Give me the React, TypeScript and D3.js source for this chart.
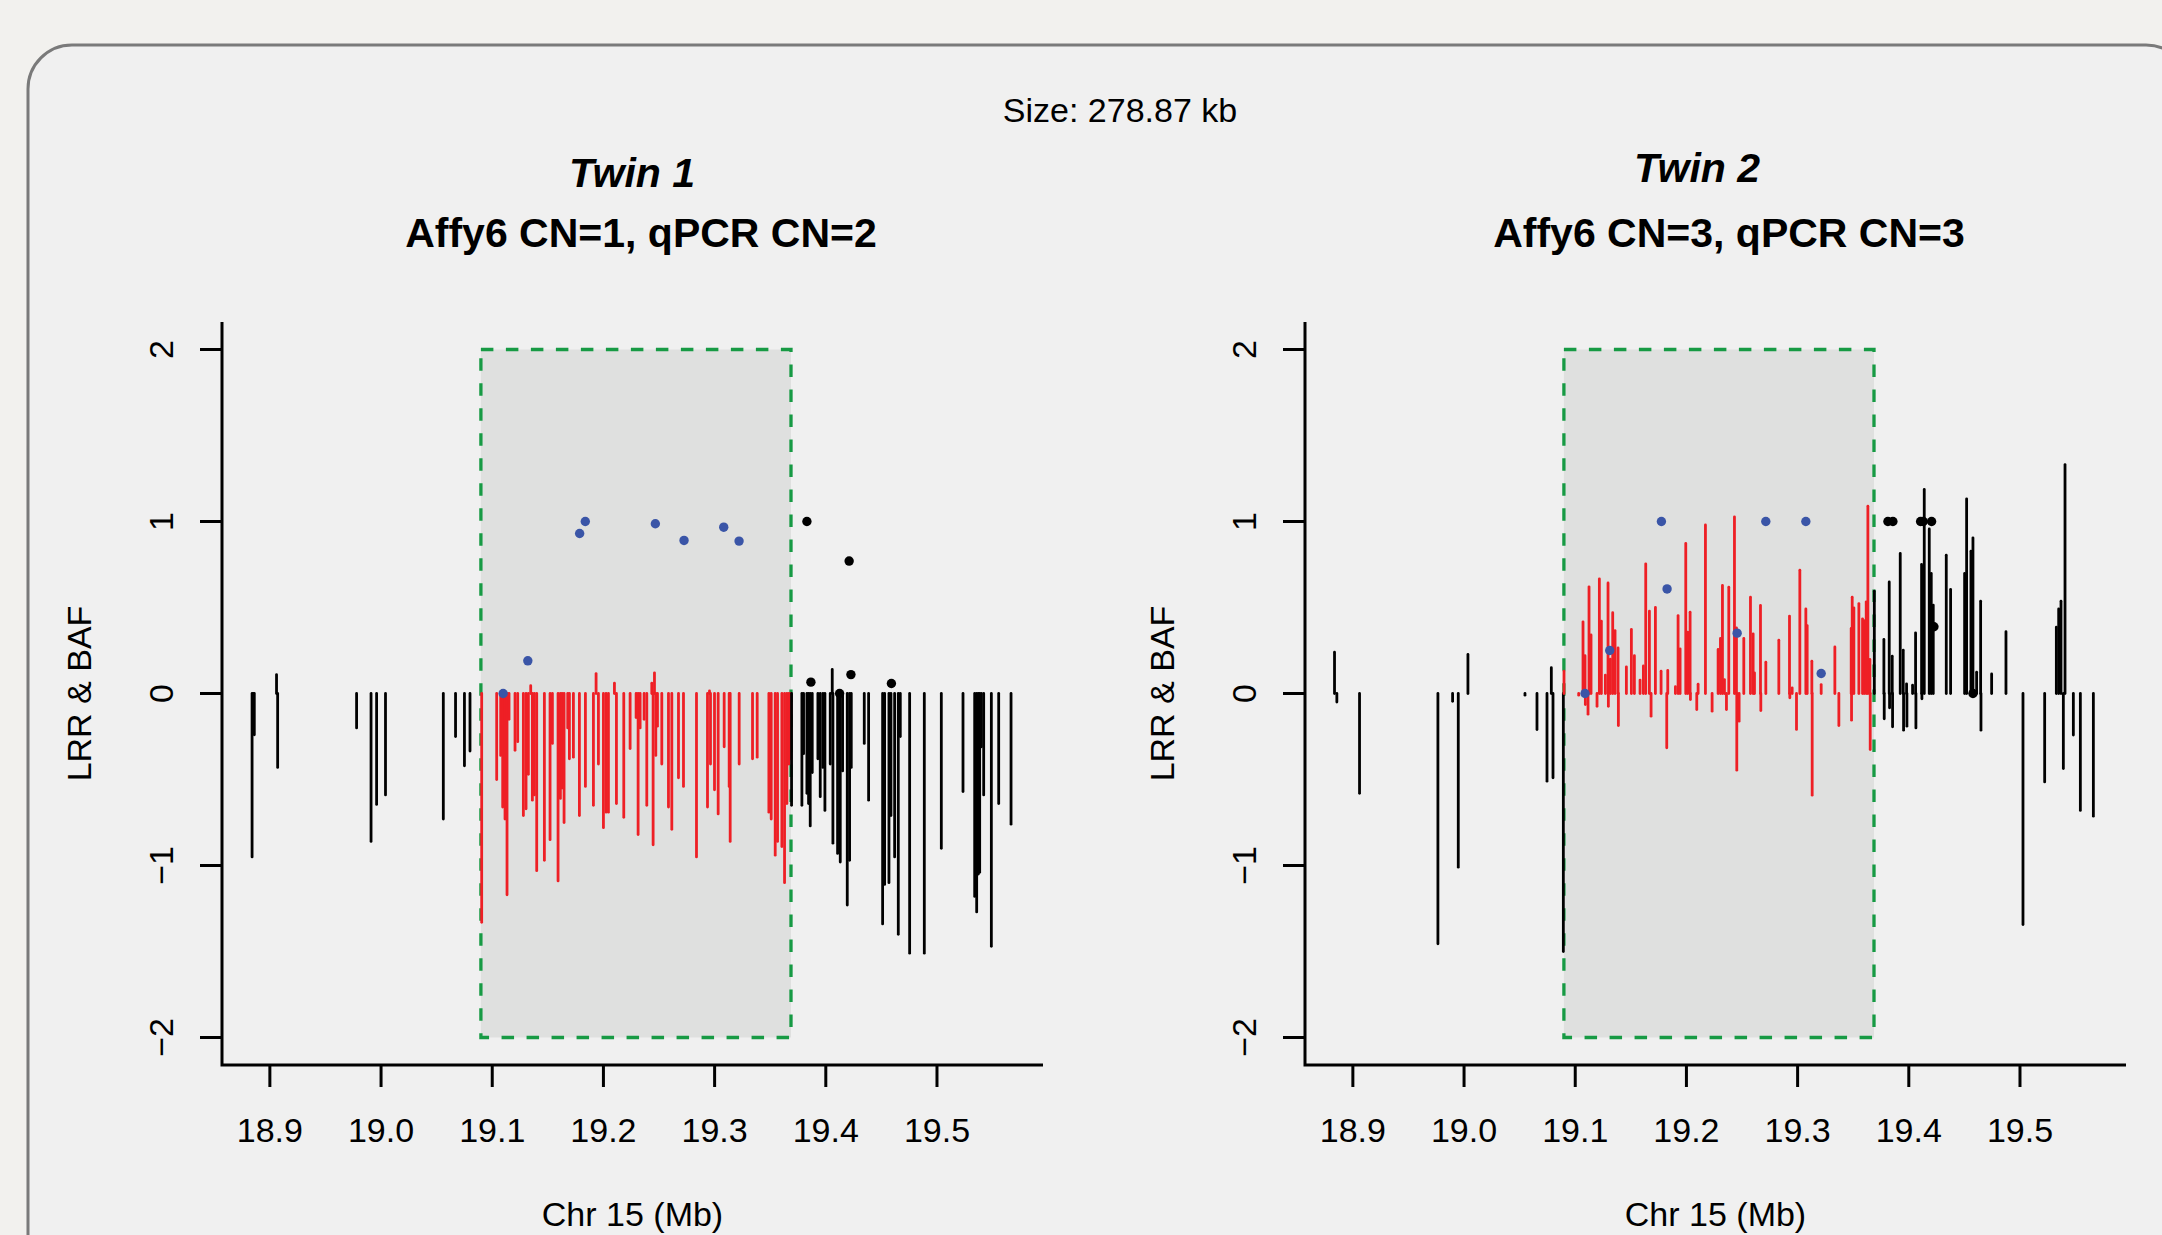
import React, { useEffect, useRef } from 'react';
import * as d3 from 'd3';

const W = 2162;
const H = 1235;

// region under test (Mb)
const cnvRegion = [19.0898, 19.3687];
const xTicks = [18.9, 19.0, 19.1, 19.2, 19.3, 19.4, 19.5];
const yTicks = [-2, -1, 0, 1, 2];
const xLim = [18.8843, 19.568];
const yLim = [-2, 2];

// Twin 1: [position Mb, LRR]
const twin1Lrr: [number, number][] = [
    [18.884, -0.95], [18.885, -0.13], [18.886, -0.24], [18.906, 0.11], [18.907, -0.43],
    [18.978, -0.2], [18.991, -0.86], [18.996, -0.645], [19.004, -0.59], [19.056, -0.73],
    [19.067, -0.25], [19.075, -0.42], [19.08, -0.335],
    [19.0905, -1.33], [19.104, -0.5], [19.1076, -0.36], [19.1094, -0.66], [19.1115, -0.73],
    [19.1133, -1.17], [19.1151, -0.15], [19.1205, -0.33], [19.1229, -0.28], [19.128, -0.71],
    [19.1304, -0.67], [19.1325, -0.47], [19.1346, 0.045], [19.1361, -0.62], [19.1379, -0.59],
    [19.14, -1.03], [19.1469, -0.97], [19.152, -0.85], [19.1541, -0.29], [19.1592, -1.09],
    [19.1613, -0.61], [19.1628, -0.55], [19.1646, -0.75], [19.1679, -0.2], [19.1694, -0.38],
    [19.173, -0.37], [19.1784, -0.71], [19.1838, -0.54], [19.191, -0.65], [19.1934, 0.116],
    [19.1955, -0.41], [19.2, -0.78], [19.2024, -0.69], [19.2045, -0.69], [19.2099, 0.06],
    [19.2117, -0.64], [19.2183, -0.72], [19.224, -0.32], [19.2294, -0.14], [19.2312, -0.82],
    [19.233, -0.2], [19.2366, -0.15], [19.239, -0.65], [19.2435, 0.06], [19.2447, -0.88],
    [19.2459, 0.12], [19.2471, -0.36], [19.2486, -0.19], [19.2525, -0.41], [19.2585, -0.66],
    [19.2615, -0.79], [19.2675, -0.49], [19.272, -0.54], [19.2837, -0.95], [19.2936, -0.66],
    [19.2954, 0.015], [19.2963, -0.41], [19.2999, -0.56], [19.3032, -0.7], [19.3086, -0.31],
    [19.3131, -0.54], [19.314, -0.86], [19.3221, -0.41], [19.3341, -0.38], [19.3383, -0.37],
    [19.3488, -0.69], [19.3509, -0.73], [19.3545, -0.94], [19.3566, -0.86], [19.3605, -0.89],
    [19.3629, -1.1], [19.365, -0.64], [19.3668, -0.41], [19.3686, -0.38],
    [19.3692, -0.65], [19.3785, -0.65], [19.38, -0.35], [19.383, -0.58], [19.3845, -0.64],
    [19.386, -0.77], [19.3878, -0.46], [19.3929, -0.38], [19.395, -0.6], [19.3974, -0.43],
    [19.3992, -0.68], [19.404, -0.41], [19.4058, 0.14], [19.4064, -0.87], [19.4106, -0.93],
    [19.413, -0.98], [19.4151, -0.45], [19.4193, -1.23], [19.4214, -0.97], [19.4229, -0.43],
    [19.4346, -0.29], [19.4385, -0.62], [19.4511, -1.34], [19.4529, -1.11], [19.4568, -1.1],
    [19.4586, -0.71], [19.4619, -0.95], [19.4652, -1.4], [19.467, -0.25], [19.4754, -1.51],
    [19.4886, -1.51], [19.5039, -0.9], [19.5234, -0.57], [19.5339, -1.18], [19.5357, -1.27],
    [19.5372, -1.05], [19.5384, -1.04], [19.5399, -0.31], [19.542, -0.59], [19.5489, -1.47],
    [19.5555, -0.64], [19.5666, -0.76],
];

// Twin 1: [position Mb, BAF]
const twin1Baf: [number, number][] = [
    [19.1098, 0.0], [19.132, 0.19], [19.1786, 0.93], [19.1837, 1.0], [19.2467, 0.987],
    [19.2725, 0.89], [19.3082, 0.967], [19.322, 0.886],
    [19.383, 1.0], [19.3866, 0.066], [19.4124, 0.0], [19.421, 0.77], [19.4226, 0.11], [19.459, 0.058],
];

// Twin 2: [position Mb, LRR]
const twin2Lrr: [number, number][] = [
    [18.8835, 0.24], [18.8856, -0.05], [18.906, -0.58], [18.9765, -1.455], [18.9897, -0.045],
    [18.9948, -1.01], [19.0035, 0.227], [19.0548, -0.01], [19.0656, -0.21], [19.0746, -0.51],
    [19.0785, 0.15], [19.08, -0.49], [19.0893, -1.5],
    [19.0899, 0.13], [19.1031, -0.01], [19.107, 0.417], [19.1088, 0.22], [19.1091, -0.064],
    [19.1115, -0.12], [19.1124, 0.62], [19.1142, 0.34], [19.1196, -0.074], [19.1217, 0.667],
    [19.1235, 0.42], [19.1271, 0.107], [19.1295, 0.643], [19.1298, -0.074], [19.1316, 0.2],
    [19.1337, 0.47], [19.1358, 0.366], [19.1385, 0.265], [19.1388, -0.186], [19.146, 0.155],
    [19.1505, 0.372], [19.1532, 0.22], [19.1583, 0.078], [19.1613, 0.16], [19.1634, 0.754],
    [19.1667, 0.479], [19.1682, -0.132], [19.1721, 0.5], [19.1772, 0.13], [19.1823, -0.316],
    [19.1832, 0.134], [19.1901, 0.04], [19.1925, 0.453], [19.1943, 0.26], [19.1994, 0.872],
    [19.2012, 0.357], [19.2033, 0.473], [19.2036, -0.035], [19.2093, -0.093], [19.2105, 0.054],
    [19.2171, 0.98], [19.2231, -0.103], [19.2285, 0.256], [19.2306, 0.32], [19.2324, 0.628],
    [19.2342, 0.081], [19.236, -0.093], [19.2381, 0.618], [19.2432, 1.027], [19.245, 0.382],
    [19.2453, -0.446], [19.2474, -0.161], [19.2516, 0.32], [19.2576, 0.56], [19.26, 0.347],
    [19.2612, 0.12], [19.2666, 0.512], [19.2669, -0.099], [19.2714, 0.182], [19.2831, 0.31],
    [19.2927, 0.45], [19.293, -0.025], [19.2951, 0.033], [19.299, -0.209], [19.302, 0.717],
    [19.3074, 0.492], [19.3086, 0.395], [19.3128, 0.188], [19.3131, -0.591], [19.3212, 0.052],
    [19.3335, 0.271], [19.3371, -0.186], [19.3482, 0.378], [19.3485, -0.155], [19.3491, 0.56],
    [19.3506, 0.498], [19.3551, 0.523], [19.3584, 0.434], [19.3599, 0.424], [19.3617, 0.533],
    [19.3632, 1.089], [19.365, 0.198], [19.3653, -0.326],
    [19.369, 0.595], [19.3776, 0.314], [19.3779, -0.147], [19.3824, 0.649], [19.3827, -0.083],
    [19.3851, 0.217], [19.3854, -0.194], [19.3923, 0.814], [19.395, 0.252], [19.3953, -0.213],
    [19.398, 0.056], [19.3983, -0.19], [19.4034, 0.048], [19.4061, 0.353], [19.4064, -0.2],
    [19.4115, 0.75], [19.4118, -0.031], [19.4139, 1.186], [19.4184, 0.957], [19.4202, 0.698],
    [19.422, 0.514], [19.4337, 0.804], [19.4376, 0.605], [19.4502, 0.698], [19.452, 1.132],
    [19.4559, 0.827], [19.4577, 0.905], [19.461, 0.124], [19.4646, 0.537], [19.4649, -0.213],
    [19.4745, 0.114], [19.4874, 0.359], [19.5027, -1.343], [19.5222, -0.514], [19.5327, 0.386],
    [19.5348, 0.492], [19.5369, 0.537], [19.539, -0.436], [19.5405, 1.331], [19.548, -0.242],
    [19.5543, -0.68], [19.566, -0.713],
];

// Twin 2: [position Mb, BAF]
const twin2Baf: [number, number][] = [
    [19.1088, 0.0], [19.131, 0.25], [19.1775, 1.0], [19.1826, 0.608], [19.2456, 0.351],
    [19.2714, 1.0], [19.3074, 1.0], [19.3212, 0.116],
    [19.3812, 1.0], [19.3857, 1.0], [19.4106, 1.0], [19.413, 1.0], [19.4205, 1.0],
    [19.4226, 0.388], [19.4577, 0.0],
];

const panels = [
    { left: 222, lrr: twin1Lrr, baf: twin1Baf, twin: 'Twin 1', cn: 'Affy6 CN=1, qPCR CN=2', twinX: 632, twinY: 187, cnX: 641 },
    { left: 1305, lrr: twin2Lrr, baf: twin2Baf, twin: 'Twin 2', cn: 'Affy6 CN=3, qPCR CN=3', twinX: 1697, twinY: 182, cnX: 1729 },
];

const FONT = '"Liberation Sans", Arial, Helvetica, sans-serif';
const TOP = 322;
const PW = 821;
const PH = 743;

function App() {
    const svgRef = useRef(null);

    useEffect(() => {
        const svg = d3.select(svgRef.current);
        svg.selectAll('*').remove();

        svg.append('rect').attr('width', W).attr('height', H).attr('fill', '#f2f1ee');
        svg.append('rect')
            .attr('x', 28).attr('y', 45).attr('width', W).attr('height', H).attr('rx', 44)
            .attr('fill', '#f0f0f0').attr('stroke', '#7a7a7a').attr('stroke-width', 3);

        svg.append('text')
            .attr('x', 1120).attr('y', 122).attr('text-anchor', 'middle')
            .style('font-family', FONT).style('font-size', '34px').attr('fill', '#000')
            .text('Size: 278.87 kb');

        // R style axis expansion (4%)
        const xPad = 0.04 * (xLim[1] - xLim[0]);
        const yPad = 0.04 * (yLim[1] - yLim[0]);
        const inRegion = (p: number) => p >= cnvRegion[0] && p <= cnvRegion[1];

        panels.forEach(p => {
            const x = d3.scaleLinear().domain([xLim[0] - xPad, xLim[1] + xPad]).range([0, PW]);
            const y = d3.scaleLinear().domain([yLim[0] - yPad, yLim[1] + yPad]).range([PH, 0]);

            svg.append('text')
                .attr('x', p.twinX).attr('y', p.twinY).attr('text-anchor', 'middle')
                .style('font-family', FONT).style('font-size', '41px')
                .style('font-weight', 'bold').style('font-style', 'italic')
                .text(p.twin);
            svg.append('text')
                .attr('x', p.cnX).attr('y', 247).attr('text-anchor', 'middle')
                .style('font-family', FONT).style('font-size', '41px').style('font-weight', 'bold')
                .text(p.cn);

            const g = svg.append('g').attr('transform', `translate(${p.left},${TOP})`);

            // shaded CNV region
            g.append('rect')
                .attr('x', x(cnvRegion[0])).attr('y', y(2))
                .attr('width', x(cnvRegion[1]) - x(cnvRegion[0])).attr('height', y(-2) - y(2))
                .attr('fill', '#dfe0df').attr('stroke', '#179a44')
                .attr('stroke-width', 3.3).attr('stroke-dasharray', '12.5 12.5');

            // LRR as histogram-like lines
            g.selectAll('line.lrr')
                .data(p.lrr)
                .join('line')
                .attr('class', 'lrr')
                .attr('x1', d => x(d[0])).attr('x2', d => x(d[0]))
                .attr('y1', y(0)).attr('y2', d => y(d[1]))
                .attr('stroke', d => inRegion(d[0]) ? '#ee1f25' : '#000')
                .attr('stroke-width', 2.8).attr('stroke-linecap', 'round');

            // BAF points
            g.selectAll('circle.baf')
                .data(p.baf)
                .join('circle')
                .attr('class', 'baf')
                .attr('cx', d => x(d[0])).attr('cy', d => y(d[1])).attr('r', 4.7)
                .attr('fill', d => inRegion(d[0]) ? '#3a55a7' : '#000');

            // L shaped box
            g.append('path')
                .attr('d', `M0,0V${PH}H${PW}`)
                .attr('fill', 'none').attr('stroke', '#000').attr('stroke-width', 3);

            g.selectAll('line.xt').data(xTicks).join('line').attr('class', 'xt')
                .attr('x1', d => x(d)).attr('x2', d => x(d)).attr('y1', PH).attr('y2', PH + 22)
                .attr('stroke', '#000').attr('stroke-width', 3);
            g.selectAll('text.xt').data(xTicks).join('text').attr('class', 'xt')
                .attr('x', d => x(d)).attr('y', 820).attr('text-anchor', 'middle')
                .style('font-family', FONT).style('font-size', '34px')
                .text(d => d3.format('.1f')(d));

            g.selectAll('line.yt').data(yTicks).join('line').attr('class', 'yt')
                .attr('x1', -22).attr('x2', 0).attr('y1', d => y(d)).attr('y2', d => y(d))
                .attr('stroke', '#000').attr('stroke-width', 3);
            g.selectAll('text.yt').data(yTicks).join('text').attr('class', 'yt')
                .attr('transform', d => `translate(-49,${y(d)}) rotate(-90)`)
                .attr('text-anchor', 'middle')
                .style('font-family', FONT).style('font-size', '34px')
                .text(d => (d < 0 ? '\u2212' : '') + Math.abs(d));

            g.append('text')
                .attr('transform', `translate(-131,${y(0)}) rotate(-90)`)
                .attr('text-anchor', 'middle')
                .style('font-family', FONT).style('font-size', '34px')
                .text('LRR & BAF');
            g.append('text')
                .attr('x', PW / 2).attr('y', 904).attr('text-anchor', 'middle')
                .style('font-family', FONT).style('font-size', '34px')
                .text('Chr 15 (Mb)');
        });
    }, []);

    return (
        <svg ref={svgRef} width={W} height={H}
            style={{ position: 'absolute', left: 0, top: 0, display: 'block' }}></svg>
    );
}

export default App;
